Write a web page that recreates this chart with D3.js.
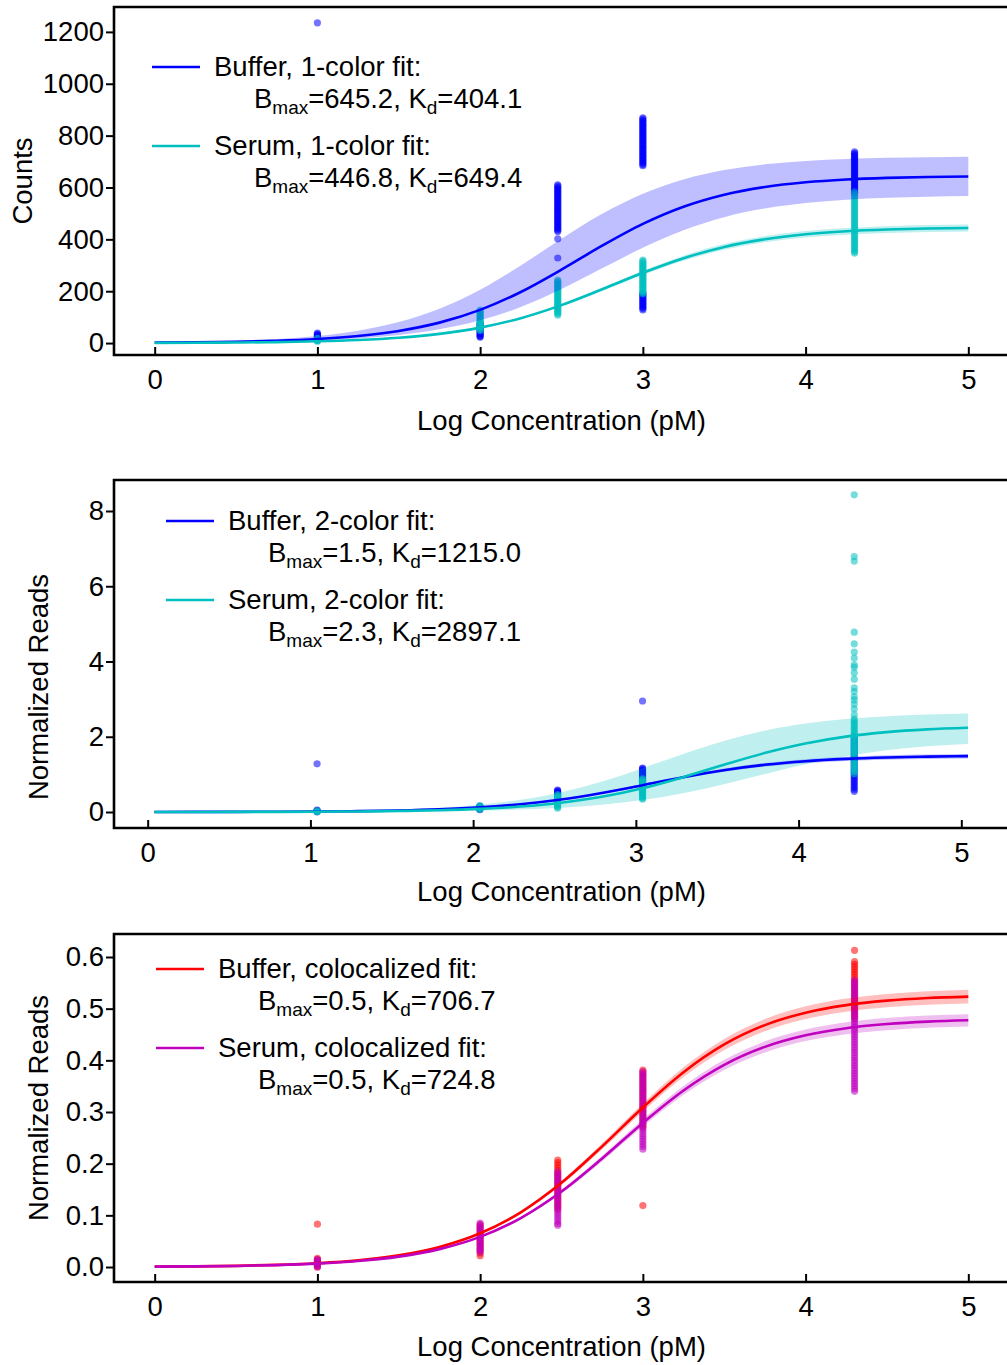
<!DOCTYPE html>
<html>
<head>
<meta charset="utf-8">
<script src="https://cdn.jsdelivr.net/npm/d3@7"></script>
<style>
  body { margin: 0; background: #fff; }
  svg { font-family: "Liberation Sans", Arial, sans-serif; }
</style>
</head>
<body>
<svg id="chart" width="1007" height="1365"></svg>
<script>
"use strict";

// fit curve sample positions (log concentration)
const X_GRID = [0, 0.25, 0.5, 0.75, 1, 1.25, 1.5, 1.75, 2, 2.25, 2.5, 2.75, 3, 3.25, 3.5, 3.75, 4, 4.25, 4.5, 4.75, 5];
const X_GRID_2 = [0.041, 0.291, 0.541, 0.791, 1.041, 1.291, 1.541, 1.791, 2.041, 2.291, 2.541, 2.791, 3.041, 3.291, 3.541, 3.791, 4.041, 4.291, 4.541, 4.791, 5.041];
// measured concentrations
const LOG_CONC = [1, 2, 2.477, 3, 4.301];
const LOG_CONC_2 = [1.041, 2.041, 2.519, 3.041, 4.342];

// panel 1: counts, 1-color fit
const buf1Fit = [1.59, 2.83, 5.01, 8.86, 15.58, 27.19, 46.82, 78.82, 128.0, 197.1, 283.2, 375.4, 459.5, 525.7, 572.1, 601.9, 620.1, 630.9, 637.1, 640.6, 642.6];
const buf1Hi = [2.87, 5.08, 8.99, 15.84, 27.69, 47.81, 80.84, 132.2, 205.7, 299.2, 402.1, 498.4, 576.0, 631.2, 667.2, 689.4, 702.4, 710.0, 714.4, 716.8, 718.2];
const buf1Lo = [1.03, 1.84, 3.26, 5.77, 10.18, 17.85, 30.99, 52.87, 87.69, 139.2, 208.1, 288.2, 367.7, 435.3, 485.5, 519.2, 540.3, 552.9, 560.3, 564.5, 566.9];
const ser1Fit = [0.69, 1.22, 2.17, 3.84, 6.78, 11.91, 20.74, 35.6, 59.62, 96.04, 146.3, 207.3, 270.9, 327.3, 370.7, 400.5, 419.6, 431.1, 437.8, 441.7, 443.9];
const ser1Hi = [0.71, 1.26, 2.24, 3.96, 6.98, 12.27, 21.36, 36.67, 61.41, 98.92, 150.7, 213.5, 279.0, 337.1, 381.8, 412.5, 432.2, 444.0, 450.9, 454.9, 457.2];
const ser1Lo = [0.67, 1.18, 2.1, 3.72, 6.58, 11.55, 20.12, 34.53, 57.83, 93.16, 141.9, 201.1, 262.8, 317.5, 359.6, 388.5, 407.0, 418.2, 424.7, 428.4, 430.6];
const buf1Pts = [
  [1235, 38, 35, 32, 29, 26, 23, 20, 17, 14, 11],
  [77, 73, 69, 65, 61, 57, 53, 49, 45, 41, 37, 33, 29, 25, 23],
  [610, 605, 600, 595, 590, 585, 580, 575, 570, 565, 560, 555, 550, 545, 540, 535, 530, 525, 520, 515, 510, 505, 500, 495, 490, 485, 480, 475, 470, 465, 460, 455, 450, 445, 440, 435, 430, 402, 328],
  [869, 864, 859, 854, 849, 844, 839, 834, 829, 824, 819, 814, 809, 804, 799, 794, 789, 784, 779, 774, 769, 764, 759, 754, 749, 744, 739, 734, 729, 724, 719, 714, 709, 704, 699, 694, 689, 684,
   193, 188, 183, 178, 173, 168, 163, 158, 153, 148, 143, 138, 133, 128],
  [737, 732, 727, 722, 717, 712, 707, 702, 697, 692, 687, 682, 677, 672, 667, 662, 657, 652, 647, 642, 637, 632, 627, 622, 617, 612, 607, 602, 597, 592, 587, 582, 579]
];
const ser1Pts = [
  [18, 15, 12, 9, 7],
  [127, 122, 117, 112, 107, 102, 97, 92, 87, 82, 77, 72, 67, 62, 57, 52, 48],
  [243, 238, 233, 228, 223, 218, 213, 208, 203, 198, 193, 188, 183, 178, 173, 168, 163, 158, 153, 148, 143, 138, 133, 128, 123, 118, 113, 108],
  [320, 315, 310, 305, 300, 295, 290, 285, 280, 275, 270, 265, 260, 255, 250, 245, 240, 235, 230, 225, 220, 215, 210, 205, 200, 195, 190],
  [583, 576, 569, 562, 555, 548, 541, 534, 527, 520, 513, 506, 499, 492, 485, 478, 471, 464, 457, 450, 443, 436, 429, 422, 415, 408, 401, 394, 387, 380, 373, 366, 359, 352, 347]
];

// panel 2: normalized reads, 2-color fit
const buf2Fit = [0.0014, 0.0024, 0.0043, 0.0076, 0.0135, 0.0238, 0.0418, 0.0727, 0.1245, 0.208, 0.334, 0.506, 0.713, 0.925, 1.112, 1.254, 1.351, 1.412, 1.449, 1.471, 1.484];
const buf2Hi = [0.0014, 0.0025, 0.0045, 0.0079, 0.014, 0.0248, 0.0435, 0.0756, 0.1295, 0.216, 0.347, 0.526, 0.742, 0.962, 1.156, 1.304, 1.405, 1.468, 1.507, 1.53, 1.543];
const buf2Lo = [0.0013, 0.0023, 0.0041, 0.0073, 0.0129, 0.0228, 0.0401, 0.0698, 0.1195, 0.2, 0.321, 0.486, 0.684, 0.888, 1.068, 1.204, 1.297, 1.356, 1.391, 1.412, 1.425];
const ser2Fit = [0.0009, 0.0016, 0.0028, 0.0049, 0.0087, 0.0154, 0.0273, 0.0481, 0.0841, 0.1455, 0.2466, 0.4046, 0.633, 0.927, 1.255, 1.566, 1.82, 2.003, 2.123, 2.197, 2.241];
const ser2Hi = [0.0021, 0.0037, 0.0066, 0.0117, 0.0207, 0.0365, 0.0643, 0.1121, 0.193, 0.325, 0.527, 0.812, 1.166, 1.545, 1.89, 2.161, 2.351, 2.473, 2.547, 2.591, 2.617];
const ser2Lo = [0.0004, 0.0007, 0.0012, 0.0021, 0.0038, 0.0067, 0.0119, 0.0211, 0.0373, 0.0653, 0.113, 0.192, 0.317, 0.498, 0.736, 1.006, 1.267, 1.483, 1.641, 1.745, 1.81];
const buf2Pts = [
  [1.28, 0.05, 0.035, 0.02, 0.005],
  [0.16, 0.14, 0.12, 0.1, 0.08, 0.06],
  [0.58, 0.56, 0.54, 0.52, 0.5, 0.48, 0.46, 0.44, 0.42, 0.4, 0.38, 0.36, 0.34],
  [2.95, 1.17, 1.145, 1.12, 1.095, 1.07, 1.045, 1.02, 0.995, 0.97, 0.945, 0.92, 0.895, 0.87, 0.845, 0.82, 0.795, 0.77, 0.745, 0.72, 0.695, 0.67],
  [2.0, 1.95, 1.9, 1.85, 1.8, 1.75, 1.7, 1.65, 1.6, 1.55, 1.5, 1.45, 1.4, 1.35, 1.3, 1.25, 1.2, 1.15, 1.1, 1.05, 1.0, 0.95, 0.9, 0.85, 0.8, 0.75, 0.7, 0.65, 0.6, 0.55]
];
const ser2Pts = [
  [0.03, 0.015, 0.0],
  [0.17, 0.15, 0.13, 0.11, 0.09, 0.07],
  [0.46, 0.43, 0.4, 0.37, 0.34, 0.31, 0.28, 0.25, 0.22, 0.19, 0.16, 0.13, 0.1],
  [0.88, 0.85, 0.82, 0.79, 0.76, 0.73, 0.7, 0.67, 0.64, 0.61, 0.58, 0.55, 0.52, 0.49, 0.46, 0.43, 0.4, 0.37, 0.34],
  [8.43, 6.79, 6.67, 4.78, 4.47, 4.25, 4.09, 3.91, 3.85, 3.7, 3.53, 3.3, 3.2, 3.06, 2.98, 2.87, 2.74, 2.58,
   2.47, 2.42, 2.37, 2.32, 2.27, 2.22, 2.17, 2.12, 2.07, 2.02, 1.97, 1.92, 1.87, 1.82, 1.77, 1.72, 1.67, 1.62, 1.57, 1.52, 1.47, 1.42, 1.37, 1.32, 1.27, 1.22, 1.17, 1.12, 1.07, 1.02]
];

// panel 3: normalized reads, colocalized fit
const buf3Fit = [0.0007, 0.0013, 0.0023, 0.0042, 0.0074, 0.0129, 0.0226, 0.0388, 0.0653, 0.1059, 0.1629, 0.2335, 0.3088, 0.3771, 0.4307, 0.4682, 0.4922, 0.5069, 0.5155, 0.5205, 0.5233];
const buf3Hi = [0.0008, 0.0014, 0.0024, 0.0043, 0.0075, 0.0133, 0.0231, 0.0398, 0.067, 0.1085, 0.167, 0.2393, 0.3165, 0.3865, 0.4415, 0.4799, 0.5045, 0.5196, 0.5284, 0.5335, 0.5364];
const buf3Lo = [0.0007, 0.0013, 0.0023, 0.0041, 0.0072, 0.0126, 0.022, 0.0379, 0.0637, 0.1033, 0.1588, 0.2277, 0.3011, 0.3677, 0.4199, 0.4565, 0.4799, 0.4942, 0.5026, 0.5075, 0.5102];
const ser3Fit = [0.0007, 0.0012, 0.0021, 0.0037, 0.0065, 0.0115, 0.0201, 0.0346, 0.0583, 0.0948, 0.1461, 0.2101, 0.2789, 0.3417, 0.3913, 0.4261, 0.4485, 0.4622, 0.4702, 0.4749, 0.4775];
const ser3Hi = [0.0007, 0.0012, 0.0021, 0.0038, 0.0067, 0.0118, 0.0206, 0.0355, 0.0598, 0.0971, 0.1498, 0.2154, 0.2859, 0.3502, 0.4011, 0.4368, 0.4597, 0.4738, 0.482, 0.4868, 0.4894];
const ser3Lo = [0.0006, 0.0011, 0.002, 0.0036, 0.0064, 0.0112, 0.0196, 0.0338, 0.0569, 0.0924, 0.1424, 0.2048, 0.2719, 0.3332, 0.3815, 0.4154, 0.4373, 0.4506, 0.4584, 0.463, 0.4656];
const buf3Pts = [
  [0.083, 0.017, 0.014, 0.011, 0.008, 0.005, 0.002, 0.0],
  [0.082, 0.077, 0.072, 0.067, 0.062, 0.057, 0.052, 0.047, 0.042, 0.037, 0.032, 0.027, 0.022],
  [0.207, 0.202, 0.197, 0.192, 0.187, 0.182, 0.177, 0.172, 0.167, 0.162, 0.157, 0.152, 0.147, 0.142, 0.137, 0.132, 0.127, 0.122, 0.117, 0.112],
  [0.381, 0.376, 0.371, 0.366, 0.361, 0.356, 0.351, 0.346, 0.341, 0.336, 0.331, 0.326, 0.321, 0.316, 0.311, 0.306, 0.301, 0.296, 0.291, 0.286, 0.281, 0.276, 0.271, 0.119],
  [0.613, 0.591, 0.586, 0.581, 0.576, 0.571, 0.566, 0.561, 0.556, 0.551, 0.546, 0.541, 0.536, 0.531, 0.526, 0.521, 0.516, 0.511, 0.506, 0.501, 0.496, 0.491, 0.486, 0.481]
];
const ser3Pts = [
  [0.015, 0.012, 0.009, 0.006, 0.003, 0.0],
  [0.085, 0.081, 0.077, 0.073, 0.069, 0.065, 0.061, 0.057, 0.053, 0.049, 0.045, 0.041, 0.037, 0.033, 0.029],
  [0.184, 0.179, 0.174, 0.169, 0.164, 0.159, 0.154, 0.149, 0.144, 0.139, 0.134, 0.129, 0.124, 0.119, 0.114, 0.109, 0.104, 0.099, 0.094, 0.089, 0.084, 0.081],
  [0.378, 0.373, 0.368, 0.363, 0.358, 0.353, 0.348, 0.343, 0.338, 0.333, 0.328, 0.323, 0.318, 0.313, 0.308, 0.303, 0.298, 0.293, 0.288, 0.283, 0.278, 0.273, 0.268, 0.263, 0.258, 0.253, 0.248, 0.243, 0.238, 0.233, 0.228],
  [0.555, 0.55, 0.545, 0.54, 0.535, 0.53, 0.525, 0.52, 0.515, 0.51, 0.505, 0.5, 0.495, 0.49, 0.485, 0.48, 0.475, 0.47, 0.465, 0.46, 0.455, 0.45, 0.445,
   0.44, 0.435, 0.43, 0.425, 0.42, 0.415, 0.41, 0.405, 0.4, 0.395, 0.39, 0.385, 0.38, 0.375, 0.37, 0.365, 0.36, 0.355, 0.35, 0.345, 0.34]
];

const X_TICKS = [0, 1, 2, 3, 4, 5];
const Y_TICKS_1 = [0, 200, 400, 600, 800, 1000, 1200];
const Y_TICKS_2 = [0, 2, 4, 6, 8];
const Y_TICKS_3 = [0, 0.1, 0.2, 0.3, 0.4, 0.5, 0.6];

const BLUE = "#0000ff", CYAN = "#00bfbf", RED = "#ff0000", MAGENTA = "#bf00bf";
const FONT = 27.5;

const panels = [
  {
    top: 7, xDomain: [-0.25, 5.25], yDomain: [-46, 1296], yTicks: Y_TICKS_1, fmt: d3.format("d"),
    yLabel: "Counts", yLabelPos: [22, 181], xLabelY: 420, legend: [38, 60], xs: X_GRID, conc: LOG_CONC,
    series: [
      { name: "Buffer, 1-color fit:", bmax: "645.2", kd: "404.1", color: BLUE, fit: buf1Fit, hi: buf1Hi, lo: buf1Lo, pts: buf1Pts },
      { name: "Serum, 1-color fit:", bmax: "446.8", kd: "649.4", color: CYAN, fit: ser1Fit, hi: ser1Hi, lo: ser1Lo, pts: ser1Pts }
    ]
  },
  {
    top: 480, xDomain: [-0.207, 5.293], yDomain: [-0.425, 8.824], yTicks: Y_TICKS_2, fmt: d3.format("d"),
    yLabel: "Normalized Reads", yLabelPos: [38, 687], xLabelY: 891, legend: [52, 41], xs: X_GRID_2, conc: LOG_CONC_2,
    series: [
      { name: "Buffer, 2-color fit:", bmax: "1.5", kd: "1215.0", color: BLUE, fit: buf2Fit, hi: buf2Hi, lo: buf2Lo, pts: buf2Pts },
      { name: "Serum, 2-color fit:", bmax: "2.3", kd: "2897.1", color: CYAN, fit: ser2Fit, hi: ser2Hi, lo: ser2Lo, pts: ser2Pts }
    ]
  },
  {
    top: 934, xDomain: [-0.25, 5.25], yDomain: [-0.029, 0.6445], yTicks: Y_TICKS_3, fmt: d3.format(".1f"),
    yLabel: "Normalized Reads", yLabelPos: [38, 1108], xLabelY: 1346, legend: [42, 35], xs: X_GRID, conc: LOG_CONC,
    series: [
      { name: "Buffer, colocalized fit:", bmax: "0.5", kd: "706.7", color: RED, fit: buf3Fit, hi: buf3Hi, lo: buf3Lo, pts: buf3Pts },
      { name: "Serum, colocalized fit:", bmax: "0.5", kd: "724.8", color: MAGENTA, fit: ser3Fit, hi: ser3Hi, lo: ser3Lo, pts: ser3Pts }
    ]
  }
];

const left = 114, width = 895, height = 348;
const svg = d3.select("#chart");

panels.forEach((p, pi) => {
  const x = d3.scaleLinear().domain(p.xDomain).range([0, width]);
  const y = d3.scaleLinear().domain(p.yDomain).range([height, 0]);
  const g = svg.append("g").attr("transform", `translate(${left},${p.top})`);

  g.append("clipPath").attr("id", `clip${pi}`)
    .append("rect").attr("width", width).attr("height", height);
  const plot = g.append("g").attr("clip-path", `url(#clip${pi})`);

  // scatter points
  p.series.forEach(s => {
    const pts = [];
    s.pts.forEach((col, ci) => col.forEach(v => pts.push([p.conc[ci], v])));
    plot.append("g").selectAll("circle")
      .data(pts)
      .join("circle")
      .attr("cx", d => x(d[0]))
      .attr("cy", d => y(d[1]))
      .attr("r", 3.6)
      .attr("fill", s.color)
      .attr("fill-opacity", 0.55)
    ;
  });

  // confidence bands
  p.series.forEach(s => {
    const area = d3.area()
      .x((d, i) => x(p.xs[i]))
      .y0((d, i) => y(s.lo[i]))
      .y1((d, i) => y(s.hi[i]))
      .curve(d3.curveMonotoneX);
    plot.append("path")
      .attr("d", area(s.fit))
      .attr("fill", s.color)
      .attr("fill-opacity", 0.25)
    ;
  });

  // fit lines
  p.series.forEach(s => {
    const line = d3.line()
      .x((d, i) => x(p.xs[i]))
      .y(d => y(d))
      .curve(d3.curveMonotoneX);
    plot.append("path")
      .attr("d", line(s.fit))
      .attr("fill", "none")
      .attr("stroke", s.color)
      .attr("stroke-width", 2.6)
    ;
  });

  // axes
  const xAxis = g.append("g")
    .attr("transform", `translate(0,${height})`)
    .call(d3.axisBottom(x).tickValues(X_TICKS).tickFormat(d3.format("d")).tickSizeInner(-8).tickSizeOuter(0).tickPadding(14));
  const yAxis = g.append("g")
    .call(d3.axisLeft(y).tickValues(p.yTicks).tickFormat(p.fmt).tickSizeInner(8).tickSizeOuter(0).tickPadding(2));
  [xAxis, yAxis].forEach(a => {
    a.select(".domain").remove();
    a.attr("font-family", null).attr("font-size", FONT);
    a.selectAll("line").attr("stroke", "#000").attr("stroke-width", 2);
    a.selectAll("text").attr("fill", "#000");
  });

  // spines
  g.append("path")
    .attr("d", `M${width},0H0V${height}H${width}`)
    .attr("fill", "none")
    .attr("stroke", "#000")
    .attr("stroke-width", 2.6)
  ;

  // axis labels
  svg.append("text")
    .attr("x", left + width / 2)
    .attr("y", p.xLabelY)
    .attr("dy", "0.35em")
    .attr("text-anchor", "middle")
    .attr("font-size", FONT)
    .text("Log Concentration (pM)")
  ;
  svg.append("text")
    .attr("transform", `translate(${p.yLabelPos[0]},${p.yLabelPos[1]}) rotate(-90)`)
    .attr("dy", "0.35em")
    .attr("text-anchor", "middle")
    .attr("font-size", FONT)
    .text(p.yLabel)
  ;

  // legend
  const leg = g.append("g").attr("transform", `translate(${p.legend[0]},${p.legend[1]})`);
  p.series.forEach((s, si) => {
    const row = leg.append("g").attr("transform", `translate(0,${si * 79})`);
    row.append("line")
      .attr("x1", 0).attr("x2", 48)
      .attr("stroke", s.color)
      .attr("stroke-width", 2.6)
    ;
    row.append("text")
      .attr("x", 62)
      .attr("y", 9)
      .attr("font-size", FONT)
      .text(s.name)
    ;
    const t = row.append("text")
      .attr("x", 102)
      .attr("y", 41)
      .attr("font-size", FONT)
    ;
    t.append("tspan").text("B");
    t.append("tspan").attr("font-size", 19).attr("dy", 6).text("max");
    t.append("tspan").attr("dy", -6).text(`=${s.bmax}, K`);
    t.append("tspan").attr("font-size", 19).attr("dy", 6).text("d");
    t.append("tspan").attr("dy", -6).text(`=${s.kd}`);
  });
});
</script>
</body>
</html>
